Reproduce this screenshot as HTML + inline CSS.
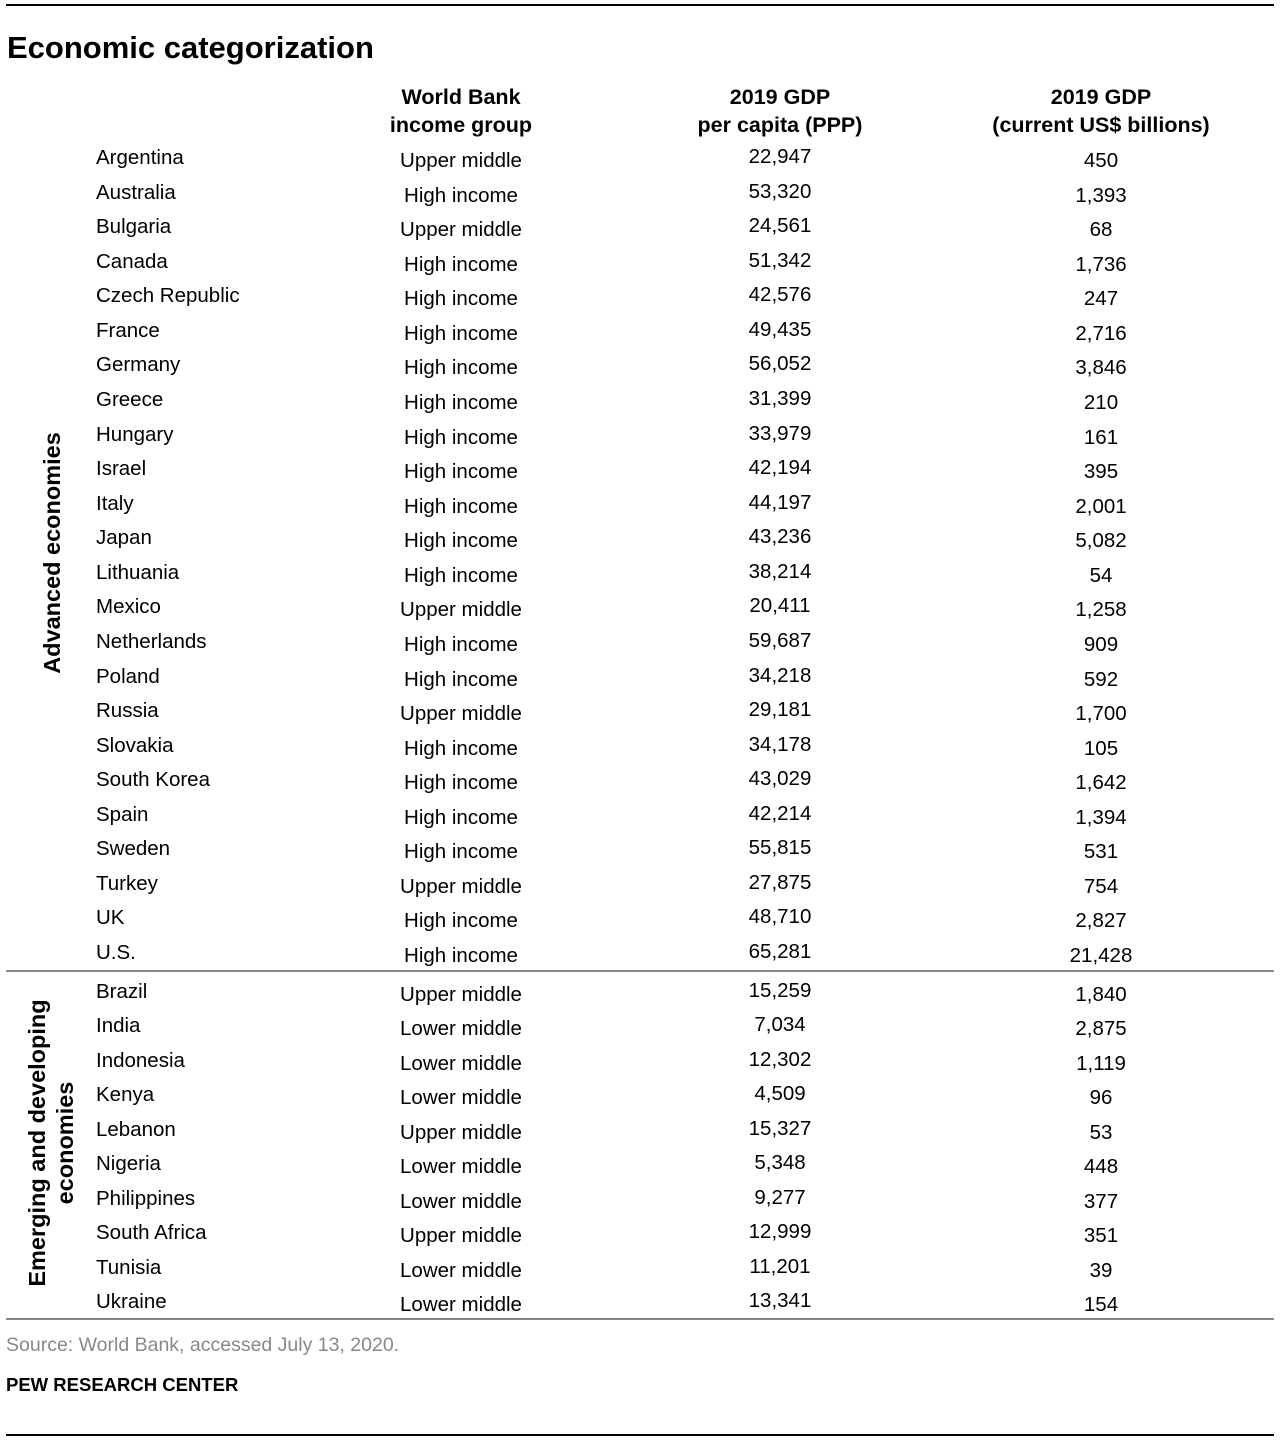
<!DOCTYPE html>
<html><head><meta charset="utf-8"><style>
body{margin:0;width:1280px;height:1440px;background:#fff;position:relative;font-family:"Liberation Sans",sans-serif;color:#000;overflow:hidden}
.a{position:absolute}
.r{position:absolute;left:0;width:1280px;height:24px;font-size:20.5px;line-height:24px}
.r span{position:absolute;white-space:nowrap}
.r span:nth-child(1){left:96px;top:1px}
.r span:nth-child(2){left:361px;width:200px;text-align:center;top:4px}
.r span:nth-child(3){left:680px;width:200px;text-align:center;top:0px}
.r span:nth-child(4){left:1001px;width:200px;text-align:center;top:4px}
.h{position:absolute;font-weight:bold;font-size:21.5px;line-height:28px;text-align:center;width:320px}
.rot{position:absolute;font-weight:bold;font-size:23.5px;line-height:28px;text-align:center;transform:translate(-50%,-50%) rotate(-90deg);white-space:nowrap}
</style></head><body>
<div class="a" style="left:6px;top:4px;width:1268px;height:2px;background:#000"></div>
<div class="a" style="left:7px;top:29px;font-size:31px;font-weight:bold;line-height:38px">Economic categorization</div>
<div class="h" style="left:301px;top:83px">World Bank<br>income group</div>
<div class="h" style="left:620px;top:83px">2019 GDP<br>per capita (PPP)</div>
<div class="h" style="left:941px;top:83px">2019 GDP<br>(current US$ billions)</div>
<div class="rot" style="left:52px;top:553px">Advanced economies</div>
<div class="rot" style="left:51px;top:1143px">Emerging and developing<br>economies</div>

<div class="r" style="top:145px"><span>Argentina</span><span>Upper middle</span><span>22,947</span><span>450</span></div>
<div class="r" style="top:180px"><span>Australia</span><span>High income</span><span>53,320</span><span>1,393</span></div>
<div class="r" style="top:214px"><span>Bulgaria</span><span>Upper middle</span><span>24,561</span><span>68</span></div>
<div class="r" style="top:249px"><span>Canada</span><span>High income</span><span>51,342</span><span>1,736</span></div>
<div class="r" style="top:283px"><span>Czech Republic</span><span>High income</span><span>42,576</span><span>247</span></div>
<div class="r" style="top:318px"><span>France</span><span>High income</span><span>49,435</span><span>2,716</span></div>
<div class="r" style="top:352px"><span>Germany</span><span>High income</span><span>56,052</span><span>3,846</span></div>
<div class="r" style="top:387px"><span>Greece</span><span>High income</span><span>31,399</span><span>210</span></div>
<div class="r" style="top:422px"><span>Hungary</span><span>High income</span><span>33,979</span><span>161</span></div>
<div class="r" style="top:456px"><span>Israel</span><span>High income</span><span>42,194</span><span>395</span></div>
<div class="r" style="top:491px"><span>Italy</span><span>High income</span><span>44,197</span><span>2,001</span></div>
<div class="r" style="top:525px"><span>Japan</span><span>High income</span><span>43,236</span><span>5,082</span></div>
<div class="r" style="top:560px"><span>Lithuania</span><span>High income</span><span>38,214</span><span>54</span></div>
<div class="r" style="top:594px"><span>Mexico</span><span>Upper middle</span><span>20,411</span><span>1,258</span></div>
<div class="r" style="top:629px"><span>Netherlands</span><span>High income</span><span>59,687</span><span>909</span></div>
<div class="r" style="top:664px"><span>Poland</span><span>High income</span><span>34,218</span><span>592</span></div>
<div class="r" style="top:698px"><span>Russia</span><span>Upper middle</span><span>29,181</span><span>1,700</span></div>
<div class="r" style="top:733px"><span>Slovakia</span><span>High income</span><span>34,178</span><span>105</span></div>
<div class="r" style="top:767px"><span>South Korea</span><span>High income</span><span>43,029</span><span>1,642</span></div>
<div class="r" style="top:802px"><span>Spain</span><span>High income</span><span>42,214</span><span>1,394</span></div>
<div class="r" style="top:836px"><span>Sweden</span><span>High income</span><span>55,815</span><span>531</span></div>
<div class="r" style="top:871px"><span>Turkey</span><span>Upper middle</span><span>27,875</span><span>754</span></div>
<div class="r" style="top:905px"><span>UK</span><span>High income</span><span>48,710</span><span>2,827</span></div>
<div class="r" style="top:940px"><span>U.S.</span><span>High income</span><span>65,281</span><span>21,428</span></div>

<div class="a" style="left:6px;top:970px;width:1268px;height:2px;background:#888"></div>

<div class="r" style="top:979px"><span>Brazil</span><span>Upper middle</span><span>15,259</span><span>1,840</span></div>
<div class="r" style="top:1013px"><span>India</span><span>Lower middle</span><span>7,034</span><span>2,875</span></div>
<div class="r" style="top:1048px"><span>Indonesia</span><span>Lower middle</span><span>12,302</span><span>1,119</span></div>
<div class="r" style="top:1082px"><span>Kenya</span><span>Lower middle</span><span>4,509</span><span>96</span></div>
<div class="r" style="top:1117px"><span>Lebanon</span><span>Upper middle</span><span>15,327</span><span>53</span></div>
<div class="r" style="top:1151px"><span>Nigeria</span><span>Lower middle</span><span>5,348</span><span>448</span></div>
<div class="r" style="top:1186px"><span>Philippines</span><span>Lower middle</span><span>9,277</span><span>377</span></div>
<div class="r" style="top:1220px"><span>South Africa</span><span>Upper middle</span><span>12,999</span><span>351</span></div>
<div class="r" style="top:1255px"><span>Tunisia</span><span>Lower middle</span><span>11,201</span><span>39</span></div>
<div class="r" style="top:1289px"><span>Ukraine</span><span>Lower middle</span><span>13,341</span><span>154</span></div>

<div class="a" style="left:6px;top:1318px;width:1268px;height:2px;background:#888"></div>
<div class="a" style="left:6px;top:1333px;font-size:19.5px;line-height:24px;color:#888">Source: World Bank, accessed July 13, 2020.</div>
<div class="a" style="left:6px;top:1373px;font-size:18.5px;line-height:24px;font-weight:bold">PEW RESEARCH CENTER</div>
<div class="a" style="left:6px;top:1434px;width:1268px;height:2px;background:#000"></div>
</body></html>
